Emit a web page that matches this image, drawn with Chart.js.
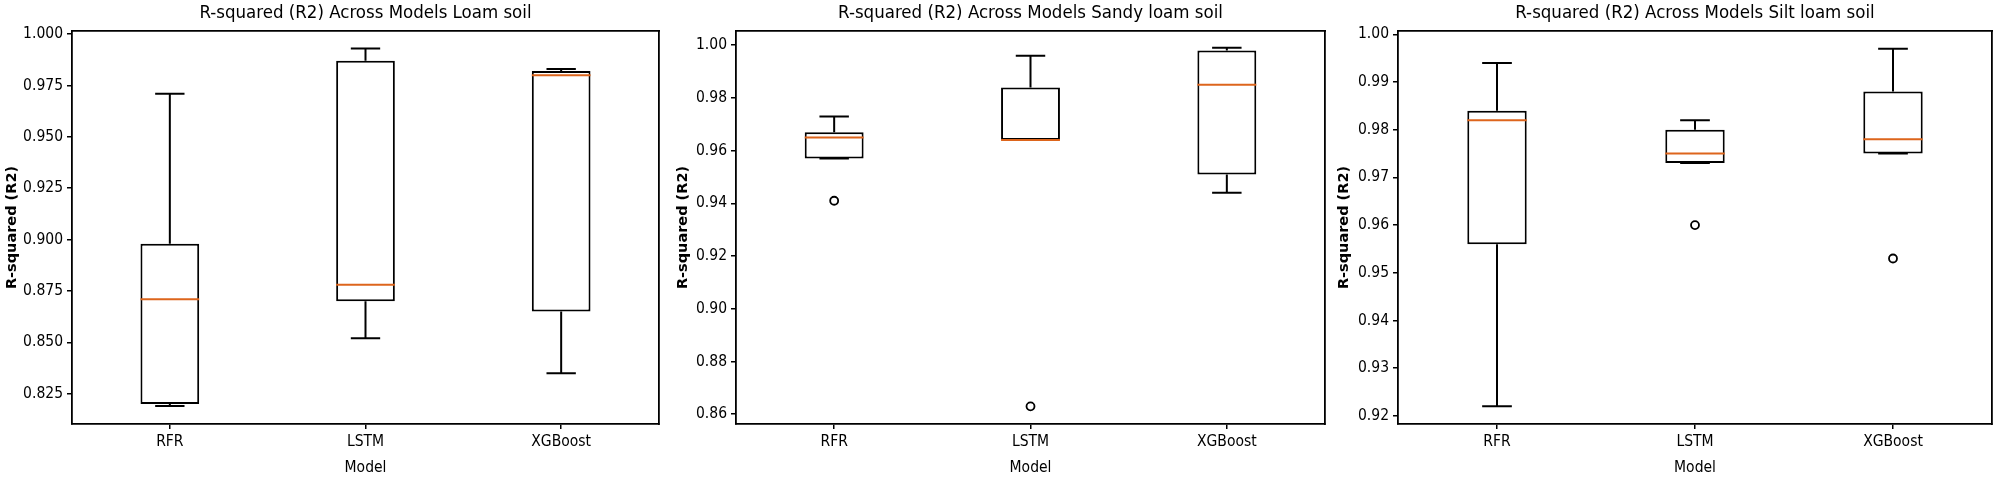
<!DOCTYPE html>
<html>
<head>
<meta charset="utf-8">
<title>R-squared (R2) Across Models</title>
<script src="https://cdn.jsdelivr.net/npm/chart.js@4.4.1/dist/chart.umd.min.js"></script>
<style>
    body { margin: 0; background: #ffffff; }
    .panel { position: absolute; top: 0; height: 480px; }
</style>
</head>
<body>
<div class="panel" style="left:0px;width:670px"><canvas id="canvas1"></canvas></div>
<div class="panel" style="left:670px;width:666px"><canvas id="canvas2"></canvas></div>
<div class="panel" style="left:1336px;width:664px"><canvas id="canvas3"></canvas></div>
<script>
let models = ["RFR", "LSTM", "XGBoost"];

// Loam soil
let loamMin = [0.819, 0.852, 0.835];
let loamQ1 = [0.820, 0.870, 0.865];
let loamMedian = [0.871, 0.878, 0.980];
let loamQ3 = [0.898, 0.987, 0.982];
let loamMax = [0.971, 0.993, 0.983];
let loamOutliers = [null, null, null];
let loamTicks = [0.825, 0.850, 0.875, 0.900, 0.925, 0.950, 0.975, 1.000];

// Sandy loam soil
let sandyMin = [0.957, 0.964, 0.944];
let sandyQ1 = [0.957, 0.964, 0.951];
let sandyMedian = [0.965, 0.964, 0.985];
let sandyQ3 = [0.967, 0.984, 0.998];
let sandyMax = [0.973, 0.996, 0.999];
let sandyOutliers = [0.941, 0.863, null];
let sandyTicks = [0.86, 0.88, 0.90, 0.92, 0.94, 0.96, 0.98, 1.00];

// Silt loam soil
let siltMin = [0.922, 0.973, 0.975];
let siltQ1 = [0.956, 0.973, 0.975];
let siltMedian = [0.982, 0.975, 0.978];
let siltQ3 = [0.984, 0.980, 0.988];
let siltMax = [0.994, 0.982, 0.997];
let siltOutliers = [null, 0.960, 0.953];
let siltTicks = [0.92, 0.93, 0.94, 0.95, 0.96, 0.97, 0.98, 0.99, 1.00];

let narrowFont = '"DejaVu Sans Condensed", "Liberation Sans Narrow", "DejaVu Sans", sans-serif';
let medianColor = "#dd651c";

function showBoxChart(canvasId, title, mins, q1s, medians, q3s, maxs, outliers, ticks, decimals, layout) {
    let whiskers = [];
    let caps = [];
    for (let i = 0; i < models.length; i++) {
        whiskers.push({x: models[i], y: q1s[i]}, {x: models[i], y: mins[i]}, {x: models[i], y: null});
        whiskers.push({x: models[i], y: q3s[i]}, {x: models[i], y: maxs[i]}, {x: models[i], y: null});
        caps.push({x: models[i], y: mins[i]}, {x: models[i], y: maxs[i]});
    }

    // half of a category slot, times the box / cap fraction
    function boxHalf(ctx) {
        return ctx.chart.chartArea ? ctx.chart.chartArea.width / models.length * 0.15 : 0;
    }
    function capHalf(ctx) {
        return ctx.chart.chartArea ? ctx.chart.chartArea.width / models.length * 0.075 : 0;
    }

    let chartdata = {
        labels: models,
        datasets: [{
            type: 'bar',
            data: q1s.map(function (q, i) { return [q, q3s[i]]; }),
            backgroundColor: '#ffffff',
            borderColor: '#000000',
            borderWidth: 2,
            borderSkipped: false,
            barPercentage: 0.3,
            categoryPercentage: 1,
            grouped: false,
            order: 5
        }, {
            type: 'line',
            data: whiskers,
            borderColor: '#000000',
            borderWidth: 2,
            pointRadius: 0,
            spanGaps: false,
            order: 4
        }, {
            type: 'line',
            data: caps,
            showLine: false,
            pointStyle: 'line',
            pointRadius: capHalf,
            pointBorderColor: '#000000',
            pointBorderWidth: 2,
            order: 3
        }, {
            type: 'line',
            data: outliers,
            showLine: false,
            pointStyle: 'circle',
            pointRadius: 4,
            pointBackgroundColor: 'rgba(0,0,0,0)',
            pointBorderColor: '#000000',
            pointBorderWidth: 1.8,
            order: 2
        }, {
            type: 'line',
            data: medians,
            showLine: false,
            pointStyle: 'line',
            pointRadius: boxHalf,
            pointBorderColor: medianColor,
            pointBorderWidth: 2,
            order: 1
        }]
    };

    new Chart(document.getElementById(canvasId), {
        type: 'bar',
        data: chartdata,
        options: {
            responsive: true,
            maintainAspectRatio: false,
            animation: false,
            events: [],
            layout: { padding: { left: 0, right: layout.padRight, top: 0, bottom: 0 } },
            plugins: { legend: { display: false }, tooltip: { enabled: false } },
            scales: {
                x: {
                    type: 'category',
                    position: 'bottom',
                    afterFit: function (scale) { scale.height = 56; },
                    grid: { offset: false, drawOnChartArea: false, drawTicks: true, tickLength: 5, color: '#000000', lineWidth: 1.5 },
                    border: { display: true, color: '#000000', width: 1.8 },
                    ticks: { padding: 4, color: '#000000', font: { family: narrowFont, size: 15.5 } },
                    title: { display: true, text: 'Model', color: '#000000', font: { family: narrowFont, size: 15.5 }, padding: { top: 0, bottom: 3 } }
                },
                xt: {
                    type: 'category',
                    position: 'top',
                    afterFit: function (scale) { scale.height = 31; },
                    grid: { drawOnChartArea: false, drawTicks: false },
                    border: { display: true, color: '#000000', width: 1.8 },
                    ticks: { display: false },
                    title: { display: true, text: title, color: '#000000', font: { family: narrowFont, size: 18.5 }, padding: { top: 2, bottom: 0 } }
                },
                y: {
                    type: 'linear',
                    position: 'left',
                    min: layout.yMin,
                    max: layout.yMax,
                    afterBuildTicks: function (scale) {
                        scale.ticks = ticks.map(function (v) { return {value: v}; });
                    },
                    afterFit: function (scale) { scale.width = layout.yWidth; },
                    grid: { drawOnChartArea: false, drawTicks: true, tickLength: 5, color: '#000000', lineWidth: 1.5 },
                    border: { display: true, color: '#000000', width: 1.8 },
                    ticks: {
                        padding: 4,
                        color: '#000000',
                        font: { family: narrowFont, size: 15.5 },
                        callback: function (value) { return Number(value).toFixed(decimals); }
                    },
                    title: { display: true, text: 'R-squared (R2)', color: '#000000', font: { family: '"DejaVu Sans", sans-serif', size: 14.5, weight: 'bold' }, padding: { top: layout.titlePad, bottom: 0 } }
                },
                y2: {
                    type: 'linear',
                    position: 'right',
                    afterFit: function (scale) { scale.width = 0; },
                    grid: { drawOnChartArea: false, drawTicks: false },
                    border: { display: true, color: '#000000', width: 1.8 },
                    ticks: { display: false }
                }
            }
        }
    });
}

showBoxChart("canvas1", "R-squared (R2) Across Models Loam soil",
    loamMin, loamQ1, loamMedian, loamQ3, loamMax, loamOutliers, loamTicks, 3,
    { yMin: 0.8103, yMax: 1.0015, yWidth: 72, padRight: 11, titlePad: 4 });

showBoxChart("canvas2", "R-squared (R2) Across Models Sandy loam soil",
    sandyMin, sandyQ1, sandyMedian, sandyQ3, sandyMax, sandyOutliers, sandyTicks, 2,
    { yMin: 0.8563, yMax: 1.0054, yWidth: 66, padRight: 11, titlePad: 5 });

showBoxChart("canvas3", "R-squared (R2) Across Models Silt loam soil",
    siltMin, siltQ1, siltMedian, siltQ3, siltMax, siltOutliers, siltTicks, 2,
    { yMin: 0.9183, yMax: 1.0007, yWidth: 62, padRight: 8, titlePad: 0 });
</script>
</body>
</html>
